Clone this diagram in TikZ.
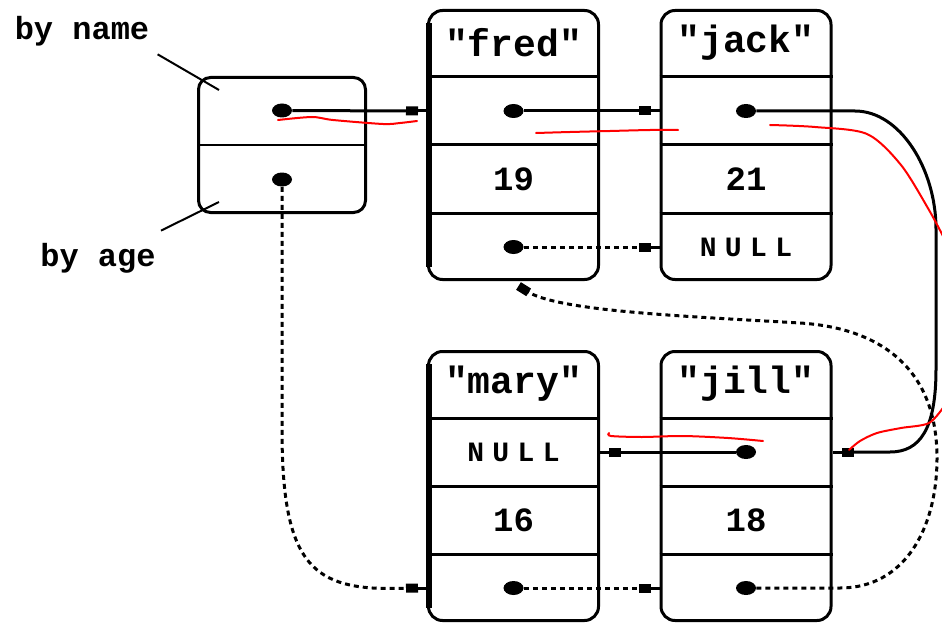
\documentclass[tikz,border=0pt]{standalone}
\usepackage{fontspec}
\setmainfont{Liberation Mono}
\newfontfamily\nilfont[LetterSpace=30]{Liberation Mono}
\usetikzlibrary{arrows.meta,calc,shapes.geometric}

\begin{document}
\begin{tikzpicture}[x=0.5pt,y=-0.5pt,
	record/.style={draw, line width=1.5pt, rounded corners=7pt, minimum width=85pt, minimum height=134.5pt, inner sep=0pt},
	headbox/.style={draw, line width=1.5pt, rounded corners=6pt, minimum width=83.5pt, minimum height=67.5pt, inner sep=0pt},
	ptr/.style={ellipse, fill, minimum width=10pt, minimum height=7pt, inner sep=0pt},
	nametext/.style={font=\bfseries\fontsize{19}{19}\selectfont},
	agetext/.style={font=\bfseries\fontsize{17}{17}\selectfont},
	niltext/.style={font=\nilfont\bfseries\fontsize{14}{14}\selectfont},
	tagtext/.style={font=\bfseries\fontsize{16}{16}\selectfont, inner sep=0pt},
	link/.style={line width=1.5pt, -{Rectangle[length=6pt,width=4.5pt]}},
	dotlink/.style={link, dash pattern=on 2.5pt off 2pt},
	stub/.style={line width=1.5pt},
	note/.style={red, line width=1pt, line cap=round}]

\useasboundingbox (0,0) rectangle (942,626);

\node[record] (fred) at (513.5,145) {};
\node[record] (jack) at (746,145) {};
\node[record] (mary) at (513.5,486) {};
\node[record] (jill) at (746,486) {};
\node[headbox] (head) at (282,145) {};

\foreach \r in {fred,jack,mary,jill}
	\foreach \f in {0.25,0.5,0.75}
		\draw[line width=1.5pt] ($(\r.north west)!\f!(\r.south west)$) -- ($(\r.north east)!\f!(\r.south east)$);
\foreach \r in {fred,mary}
	\draw[line width=3pt] ([xshift=0.75pt,yshift=-7pt]\r.north west) -- ([xshift=0.75pt,yshift=7pt]\r.south west);
\draw[line width=1pt] (head.west) -- (head.east);

\node[ptr] (headdot1) at ($(head.north)!0.25!(head.south)$) {};
\node[ptr] (headdot2) at ($(head.north)!0.75!(head.south)$) {};

\node[nametext] (fredname) at ($(fred.north)!0.125!(fred.south)$) {\textquotedbl fred\textquotedbl};
\node[ptr] (freddot1) at ($(fred.north)!0.375!(fred.south)$) {};
\node[agetext] (fredage) at ($(fred.north)!0.625!(fred.south)$) {19};
\node[ptr] (freddot2) at ($(fred.north)!0.875!(fred.south)$) {};

\node[nametext] (jackname) at ($(jack.north)!0.125!(jack.south)$) {\textquotedbl jack\textquotedbl};
\node[ptr] (jackdot1) at ($(jack.north)!0.375!(jack.south)$) {};
\node[agetext] (jackage) at ($(jack.north)!0.625!(jack.south)$) {21};
\node[niltext] (jacknull) at ($(jack.north)!0.875!(jack.south)$) {NULL};

\node[nametext] (maryname) at ($(mary.north)!0.125!(mary.south)$) {\textquotedbl mary\textquotedbl};
\node[niltext] (marynull) at ($(mary.north)!0.375!(mary.south)$) {NULL};
\node[agetext] (maryage) at ($(mary.north)!0.625!(mary.south)$) {16};
\node[ptr] (marydot2) at ($(mary.north)!0.875!(mary.south)$) {};

\node[nametext] (jillname) at ($(jill.north)!0.125!(jill.south)$) {\textquotedbl jill\textquotedbl};
\node[ptr] (jilldot1) at ($(jill.north)!0.375!(jill.south)$) {};
\node[agetext] (jillage) at ($(jill.north)!0.625!(jill.south)$) {18};
\node[ptr] (jilldot2) at ($(jill.north)!0.875!(jill.south)$) {};

\node[tagtext] (byname) at (82,31) {by name};
\node[tagtext] (byage) at (98,258) {by age};
\draw[line width=1pt] ([shift={(8,8)}]byname.south east) -- ([shift={(22,14)}]head.north west);
\draw[line width=1pt] ([shift={(5,-12)}]byage.north east) -- ([shift={(22,-12)}]head.south west);

\coordinate (fredin) at ($(fred.west |- freddot1)+(-9,0)$);
\coordinate (jackin) at ($(jack.west |- freddot1)+(-9,0)$);
\coordinate (jacknil) at ($(jack.west |- freddot2)+(-9,0)$);
\coordinate (marynil) at ($(mary.east |- jilldot1)+(9,0)$);
\coordinate (jillright) at ($(jill.east |- jilldot1)+(9,0)$);
\coordinate (maryin) at ($(mary.west |- marydot2)+(-9,0)$);
\coordinate (jillin) at ($(jill.west |- marydot2)+(-9,0)$);
\coordinate (fredback) at ($(fred.south)+(5,5)$);

\draw[link] (headdot1) -- (fredin);
\draw[stub] (fredin) -- (fred.west |- fredin);
\draw[link] (freddot1) -- (jackin);
\draw[stub] (jackin) -- (jack.west |- jackin);
\draw[link] (jackdot1) -- ++(109,0) .. controls +(45,0) and +(0,-60) .. ++(81,118)
	-- ++(0,140) .. controls +(0,60) and +(30,0) .. ++(-46,83) -- (jillright);
\draw[stub] (jillright) -- (jill.east |- jillright);
\draw[link] (jilldot1) -- (marynil);
\draw[stub] (marynil) -- (mary.east |- marynil);

\draw[dotlink] (freddot2) -- (jacknil);
\draw[stub] (jacknil) -- (jack.west |- jacknil);
\draw[dotlink] (headdot2) -- ++(0,250) .. controls +(0,129) and +(-80,0) .. ++(107,159) -- (maryin);
\draw[stub] (maryin) -- (mary.west |- maryin);
\draw[dotlink] (marydot2) -- (jillin);
\draw[stub] (jillin) -- (jill.west |- jillin);
\draw[dotlink] (jilldot2) -- ++(94,0) .. controls +(65,0) and +(0,70) .. ++(97,-130)
	.. controls +(0,-90) and +(80,5) .. ++(-137,-135) .. controls +(-120,-7) and +(40,25) .. (fredback);

\draw[note] plot[smooth] coordinates {(278,120) (312,117) (333,120) (383,124) (400,123) (417,121)};
\draw[note] plot[smooth] coordinates {(536,133) (570,132) (610,131) (650,130) (678,130)};
\draw[note] plot[smooth] coordinates {(770,125) (815,127) (867,134) (901,165) (929,210) (945,240)};
\draw[note] plot[smooth] coordinates {(945,405) (929,423) (901,428) (877,433) (860,441) (849,450)};
\draw[note] plot[smooth] coordinates {(609,433) (611,436) (642,437) (683,436) (728,438) (763,441)};
\end{tikzpicture}
\end{document}
